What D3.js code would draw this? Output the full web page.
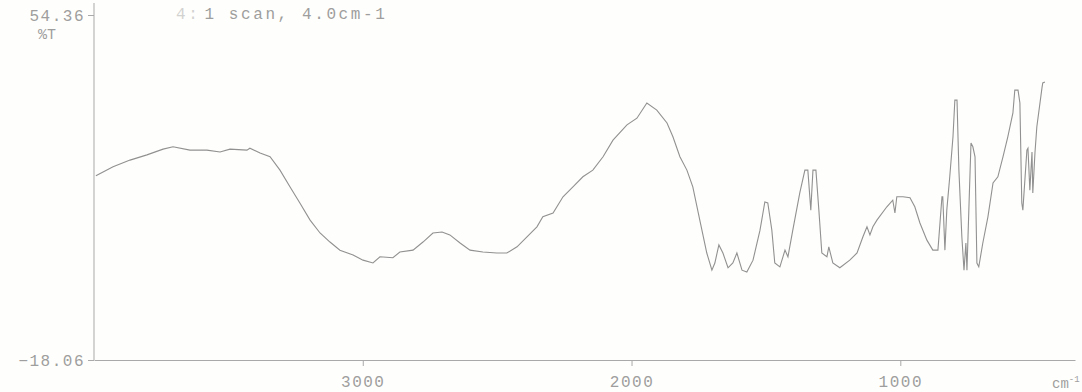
<!DOCTYPE html>
<html>
<head>
<meta charset="utf-8">
<script src="https://cdn.jsdelivr.net/npm/d3@7"></script>
<style>
  html, body { margin: 0; padding: 0; background: #fefefc; }
  svg { display: block; }
  .lbl { font-family: "Liberation Mono", "DejaVu Sans Mono", monospace; fill: #9e9e9e; }
</style>
</head>
<body>
<svg id="chart" width="1082" height="392"></svg>
<script>
// wavenumber (cm-1), left to right
const wavenumbers = [3993, 3929, 3866, 3803, 3743, 3706, 3643, 3580, 3531, 3494, 3431, 3420, 3382, 3345,
  3308, 3271, 3234, 3196, 3159, 3122, 3085, 3036, 2999, 2962, 2936, 2888, 2862, 2813, 2776, 2739, 2705,
  2676, 2638, 2601, 2553, 2501, 2464, 2426, 2389, 2352, 2330, 2292, 2255, 2218, 2181, 2144, 2106, 2069,
  2017, 1980, 1943, 1906, 1868, 1846, 1820, 1794, 1772, 1746, 1720, 1701, 1690, 1675, 1660, 1641, 1623,
  1608, 1589, 1571, 1548, 1522, 1504, 1493, 1478, 1467, 1448, 1429, 1418, 1400, 1374, 1355, 1344, 1333,
  1325, 1314, 1303, 1292, 1273, 1266, 1251, 1225, 1188, 1161, 1139, 1124, 1113, 1102, 1087, 1050, 1028,
  1020, 1013, 990, 964, 946, 927, 901, 879, 860, 845, 842, 834, 827, 816, 804, 797, 789, 782, 771, 763,
  756, 752, 745, 737, 730, 722, 715, 708, 693, 674, 655, 637, 618, 600, 581, 574, 562, 555, 548, 544,
  529, 525, 518, 510, 507, 499, 492, 473, 470, 462];
// transmittance (%T) at each wavenumber
const transmittance = [20.6, 22.5, 23.9, 25.0, 26.2, 26.7, 26.0, 26.0, 25.6, 26.2, 26.0, 26.4, 25.4, 24.6,
  21.8, 18.3, 14.9, 11.3, 8.6, 6.7, 5.0, 4.0, 2.9, 2.3, 3.6, 3.4, 4.6, 5.0, 6.7, 8.6, 8.8,
  8.2, 6.5, 5.0, 4.6, 4.4, 4.4, 5.7, 7.8, 9.9, 12.0, 12.8, 16.2, 18.3, 20.4, 21.8, 24.6, 28.1,
  31.3, 32.7, 35.9, 34.4, 31.7, 28.8, 24.6, 21.8, 18.3, 11.3, 4.4, 0.8, 2.3, 6.1, 4.4, 1.3, 2.3,
  4.4, 0.8, 0.4, 2.9, 9.2, 15.1, 14.9, 9.2, 2.3, 1.5, 5.0, 3.6, 9.2, 17.0, 21.8, 21.8, 13.4,
  21.8, 21.8, 13.4, 4.4, 3.6, 5.7, 2.3, 1.3, 2.9, 4.4, 7.8, 9.9, 8.2, 9.9, 11.3, 14.1, 15.5,
  12.8, 16.2, 16.2, 16.0, 14.1, 10.7, 7.1, 5.0, 5.0, 16.2, 16.2, 5.0, 13.4, 20.4, 28.8, 36.5, 36.5, 21.8, 7.8, 0.8,
  6.5, 0.8, 13.4, 27.5, 26.7, 24.6, 2.3, 1.5, 6.5, 12.0, 19.1, 20.4, 24.6, 28.8, 33.8, 38.6, 38.6, 35.9, 14.9, 13.4,
  26.0, 26.4, 17.6, 25.6, 17.0, 25.4, 30.9, 39.0, 40.1, 40.3];

const yTicks = [54.36, -18.06];
const xTicks = [3000, 2000, 1000];
const header = '1 scan, 4.0cm-1';

const ink = '#a9a9a9';
const svg = d3.select('#chart');

const x = d3.scaleLinear().domain([4000, 350]).range([94, 1075]);
const y = d3.scaleLinear().domain([yTicks[1], yTicks[0]]).range([360, 15]);

// y axis
const yAxis = d3.axisLeft(y).tickValues(yTicks).tickSize(6).tickFormat(d3.format('.2f'));
const gy = svg.append('g').attr('transform', `translate(${x(4000)},0)`).call(yAxis);
gy.select('.domain').remove();
gy.append('line')
  .attr('x1', 0).attr('x2', 0)
  .attr('y1', y(yTicks[0]) - 12).attr('y2', y(yTicks[1]))
  .attr('stroke', ink);

// x axis
const xAxis = d3.axisBottom(x).tickValues(xTicks).tickSize(6).tickSizeOuter(0).tickFormat(d3.format('d'));
const gx = svg.append('g').attr('transform', `translate(0,${y(yTicks[1])})`).call(xAxis);

svg.selectAll('.tick line').attr('stroke', ink);
svg.selectAll('.domain').attr('stroke', ink);
svg.selectAll('.tick text')
  .attr('class', 'lbl')
  .style('font-size', '16px')
  .style('letter-spacing', '1.5px')
  .attr('fill', '#9e9e9e');
gx.selectAll('.tick text').attr('dy', '1.15em');

// spectrum trace
const pts = wavenumbers.map((w, i) => [w, transmittance[i]]);
svg.append('path')
  .datum(pts)
  .attr('fill', 'none')
  .attr('stroke', '#919191')
  .attr('stroke-width', 1.1)
  .attr('d', d3.line().x(d => x(d[0])).y(d => y(d[1])));

// labels
svg.append('text').attr('class', 'lbl')
  .attr('x', 38).attr('y', 39)
  .style('font-size', '15px')
  .text('%T');

const h = svg.append('text').attr('class', 'lbl')
  .attr('x', 176).attr('y', 19)
  .style('font-size', '16px').style('letter-spacing', '2.6px');
h.append('tspan').attr('opacity', 0.45).text('4:');
h.append('tspan').attr('dx', 4).text(header);

const u = svg.append('text').attr('class', 'lbl')
  .attr('x', 1052).attr('y', 388)
  .style('font-size', '14px');
u.append('tspan').text('cm');
u.append('tspan').attr('dy', -6).style('font-size', '9px').text('-1');
</script>
</body>
</html>
